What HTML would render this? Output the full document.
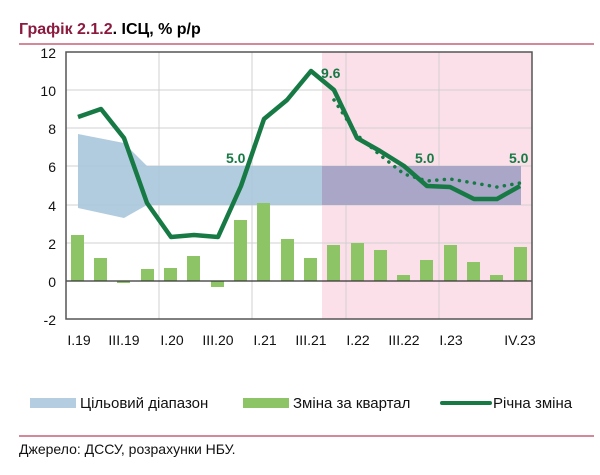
<!DOCTYPE html>
<html><head><meta charset="utf-8"><style>body{margin:0;background:#fff}svg{display:block;font-family:"Liberation Sans",sans-serif}</style></head><body>
<svg width="600" height="475" viewBox="0 0 600 475" xmlns="http://www.w3.org/2000/svg">
<text x="19" y="34" font-size="16" font-weight="bold" fill="#8b1a3f">Графік 2.1.2<tspan fill="#000">. ІСЦ, % р/р</tspan></text>
<line x1="19" y1="44" x2="594" y2="44" stroke="#c8607a" stroke-width="1.5"/>
<rect x="322" y="52" width="210" height="267" fill="#fbe0ea"/>
<g stroke="#d0d0d0" stroke-width="1">
<line x1="66" y1="90" x2="532" y2="90"/><line x1="66" y1="128" x2="532" y2="128"/><line x1="66" y1="166" x2="532" y2="166"/><line x1="66" y1="205" x2="532" y2="205"/><line x1="66" y1="243" x2="532" y2="243"/>
<line x1="159" y1="52" x2="159" y2="319"/><line x1="252" y1="52" x2="252" y2="319"/><line x1="346" y1="52" x2="346" y2="319"/><line x1="439" y1="52" x2="439" y2="319"/>
</g>
<polygon points="78,134 124,143 147,166 521,166 521,205 147,205 124,218 78,208" fill="#a9c6dc" opacity="0.9"/>
<rect x="322" y="166" width="199" height="39" fill="#aaa6c8"/>
<g fill="#8dc466">
<rect x="71" y="235" width="13" height="46"/><rect x="94" y="258" width="13" height="23"/><rect x="117" y="281" width="13" height="2"/><rect x="141" y="269" width="13" height="12"/><rect x="164" y="268" width="13" height="13"/><rect x="187" y="256" width="13" height="25"/><rect x="211" y="281" width="13" height="6"/><rect x="234" y="220" width="13" height="61"/><rect x="257" y="203" width="13" height="78"/><rect x="281" y="239" width="13" height="42"/><rect x="304" y="258" width="13" height="23"/><rect x="327" y="245" width="13" height="36"/><rect x="351" y="243" width="13" height="38"/><rect x="374" y="250" width="13" height="31"/><rect x="397" y="275" width="13" height="6"/><rect x="420" y="260" width="13" height="21"/><rect x="444" y="245" width="13" height="36"/><rect x="467" y="262" width="13" height="19"/><rect x="490" y="275" width="13" height="6"/><rect x="514" y="247" width="13" height="34"/>
</g>
<line x1="66" y1="281" x2="532" y2="281" stroke="#333" stroke-width="1.2"/>
<rect x="66" y="52" width="466" height="267" fill="none" stroke="#555" stroke-width="1.5"/>
<polyline points="334,100 357,135 380,155 404,174 427,181 450,179 474,183 497,187 520,183" fill="none" stroke="#177a45" stroke-width="3.5" stroke-dasharray="0.1 7.5" stroke-linecap="round"/>
<polyline points="78,117 101,109 124,138 147,203 171,237 194,235 218,237 241,186 264,119 287,100 311,71 334,90 357,138 380,151 404,166 427,186 450,187 474,199 497,199 520,186" fill="none" stroke="#177a45" stroke-width="4.5" stroke-linejoin="round"/>
<g font-size="14" fill="#177a45" font-weight="bold">
<text x="226" y="163">5.0</text><text x="415" y="163">5.0</text><text x="509" y="163">5.0</text><text x="321" y="78">9.6</text></g>
<g font-size="14" fill="#111" text-anchor="end">
<text x="56" y="58">12</text><text x="56" y="96">10</text><text x="56" y="134">8</text><text x="56" y="172">6</text><text x="56" y="211">4</text><text x="56" y="249">2</text><text x="56" y="287">0</text><text x="56" y="325">-2</text></g>
<g font-size="14" fill="#111" text-anchor="middle">
<text x="79" y="345">I.19</text><text x="124" y="345">III.19</text><text x="172" y="345">I.20</text><text x="218" y="345">III.20</text><text x="265" y="345">I.21</text><text x="311" y="345">III.21</text><text x="358" y="345">I.22</text><text x="404" y="345">III.22</text><text x="451" y="345">I.23</text><text x="520" y="345">IV.23</text></g>
<rect x="30" y="398" width="46" height="10" fill="#b5cde0"/>
<rect x="243" y="398" width="46" height="10" fill="#8dc466"/>
<line x1="442" y1="403" x2="490" y2="403" stroke="#177a45" stroke-width="4" stroke-linecap="round"/>
<g font-size="15" fill="#111"><text x="80" y="408">Цільовий діапазон</text><text x="293" y="408">Зміна за квартал</text><text x="493" y="408">Річна зміна</text></g>
<line x1="19" y1="436" x2="594" y2="436" stroke="#c8607a" stroke-width="1.5"/>
<text x="19" y="454" font-size="14" fill="#111">Джерело: ДССУ, розрахунки НБУ.</text>
</svg>
</body></html>
